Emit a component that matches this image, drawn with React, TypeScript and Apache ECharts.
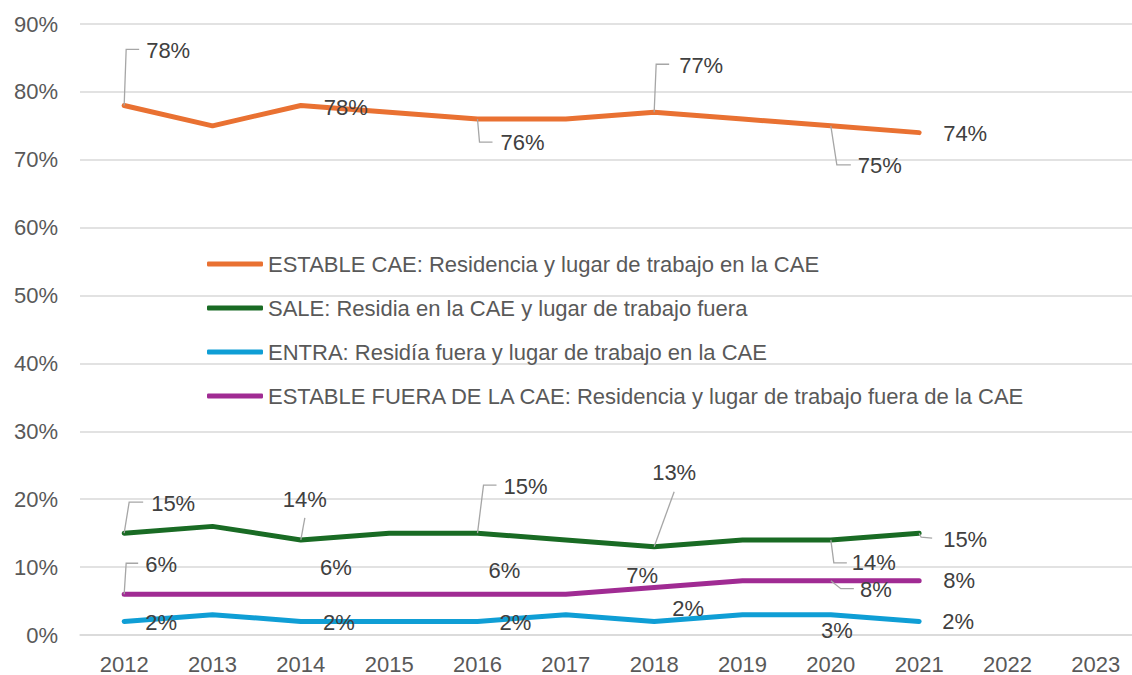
import React, { useEffect, useRef } from "react";
import * as echarts from "echarts";

const years = ["2012", "2013", "2014", "2015", "2016", "2017", "2018", "2019", "2020", "2021", "2022", "2023"];
const yTicks = [0, 10, 20, 30, 40, 50, 60, 70, 80, 90];

const estableCae = [78, 75, 78, 77, 76, 76, 77, 76, 75, 74];
const sale = [15, 16, 14, 15, 15, 14, 13, 14, 14, 15];
const entra = [2, 3, 2, 2, 2, 3, 2, 3, 3, 2];
const estableFuera = [6, 6, 6, 6, 6, 6, 7, 8, 8, 8];

const seriesNames = [
  "ESTABLE CAE: Residencia y lugar de trabajo en la CAE",
  "SALE: Residia en la CAE y lugar de trabajo fuera",
  "ENTRA: Residía fuera y lugar de trabajo en la CAE",
  "ESTABLE FUERA DE LA CAE: Residencia y lugar de trabajo fuera de la CAE",
];
const seriesColors = ["#E97132", "#196B24", "#0F9ED5", "#A02B93"];

// indices of labelled points
const labelIdx = [0, 2, 4, 6, 8, 9];

type Lay = { t: [number, number]; l?: [number, number][] };

// label placement (text centre offset and leader line from point), per series, per labelled point
const layouts: Lay[][] = [
  [
    { t: [44, -55], l: [[0, 0], [2, -56], [15, -56]] },
    { t: [45, 2] },
    { t: [45, 23], l: [[0, 0], [2, 23], [15, 23]] },
    { t: [47, -47], l: [[0, 0], [2, -48], [15, -48]] },
    { t: [49, 40], l: [[0, 0], [6, 39], [20, 39]] },
    { t: [46, 1] },
  ],
  [
    { t: [49, -30], l: [[0, 0], [5, -31], [19, -31]] },
    { t: [4, -40], l: [[0, 0], [4, -22]] },
    { t: [48, -47], l: [[0, 0], [6, -48], [19, -48]] },
    { t: [20, -74], l: [[0, 0], [20, -55]] },
    { t: [43, 23], l: [[0, 0], [3, 23], [16, 23]] },
    { t: [46, 6], l: [[0, 0], [2, 4], [13, 5]] },
  ],
  [
    { t: [37, 1] },
    { t: [38, 1] },
    { t: [38, 1] },
    { t: [34, -13] },
    { t: [6, 16] },
    { t: [39, 0] },
  ],
  [
    { t: [37, -30], l: [[0, 0], [2, -31], [14, -31]] },
    { t: [35, -27] },
    { t: [27, -24] },
    { t: [-12, -12] },
    { t: [45, 9], l: [[0, 0], [10, 8], [23, 8]] },
    { t: [40, 0] },
  ],
];

const allValues = [estableCae, sale, entra, estableFuera];

export default function App() {
  const ref = useRef<HTMLDivElement>(null);
  useEffect(() => {
    if (!ref.current) return;
    const chart = echarts.init(ref.current, null, { renderer: "svg" });
    const font = "'Liberation Sans', Arial, sans-serif";

    const lineSeries = allValues.map((vals, s) => ({
      name: seriesNames[s],
      type: "line",
      data: vals,
      symbol: "none",
      showSymbol: false,
      color: seriesColors[s],
      itemStyle: { color: seriesColors[s] },
      lineStyle: { width: 5, color: seriesColors[s], cap: "round", join: "round" },
      z: 2,
      silent: true,
    }));

    const labelSeries = allValues.map((vals, s) => ({
      name: "lbl" + s,
      type: "custom",
      data: labelIdx.map((i) => [i, vals[i]]),
      encode: { x: 0, y: 1 },
      z: 5,
      silent: true,
      renderItem: (params: any, api: any) => {
        const pt = api.coord([api.value(0), api.value(1)]);
        const lay = layouts[s][params.dataIndex];
        const children: any[] = [];
        if (lay.l) {
          children.push({
            type: "polyline",
            shape: { points: lay.l.map((p) => [pt[0] + p[0], pt[1] + p[1]]) },
            style: { stroke: "#A6A6A6", lineWidth: 1.3, fill: "none" },
          });
        }
        children.push({
          type: "text",
          x: pt[0] + lay.t[0],
          y: pt[1] + lay.t[1],
          style: {
            text: api.value(1) + "%",
            fill: "#404040",
            font: "22px " + font,
            align: "center",
            verticalAlign: "middle",
          },
        });
        return { type: "group", children };
      },
    }));

    chart.setOption({
      animation: false,
      textStyle: { fontFamily: font },
      grid: { left: 80, right: 0, top: 24, bottom: 39, containLabel: false },
      legend: {
        show: true,
        data: seriesNames.map((n) => ({ name: n, icon: "roundRect" })),
        orient: "vertical",
        left: 202,
        top: 248,
        itemWidth: 56,
        itemHeight: 5,
        itemGap: 22,
        textStyle: { fontSize: 22, color: "#595959", fontFamily: font },
        selectedMode: false,
      },
      xAxis: {
        type: "category",
        data: years,
        boundaryGap: true,
        axisLine: { show: true, lineStyle: { color: "#D9D9D9", width: 1.5 } },
        axisTick: { show: false },
        axisLabel: { color: "#595959", fontSize: 22, margin: 18, fontFamily: font },
        splitLine: { show: false },
      },
      yAxis: {
        type: "value",
        min: yTicks[0],
        max: yTicks[yTicks.length - 1],
        interval: 10,
        axisLine: { show: false },
        axisTick: { show: false },
        axisLabel: { color: "#595959", fontSize: 22, margin: 22, formatter: "{value}%", fontFamily: font },
        splitLine: { show: true, lineStyle: { color: "#D9D9D9", width: 1.5 } },
      },
      series: [...lineSeries, ...labelSeries],
    });
    return () => chart.dispose();
  }, []);
  return (
    <div style={{ position: "absolute", left: 0, top: 0, width: 1132, height: 675, overflow: "hidden" }}>
      <div ref={ref} style={{ width: 1140, height: 675 }} />
    </div>
  );
}
